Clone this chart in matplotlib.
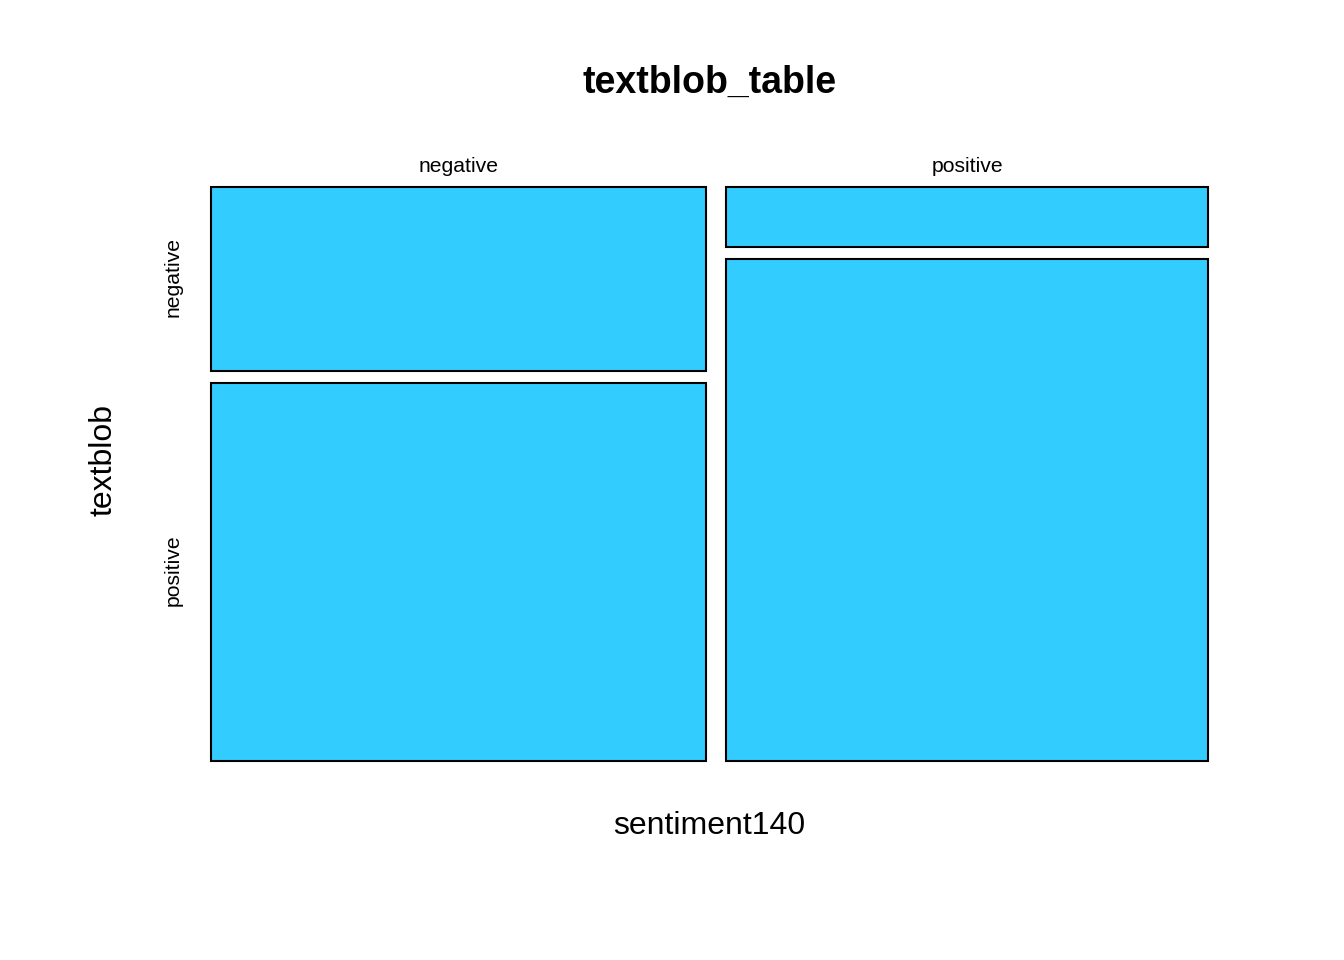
import matplotlib
matplotlib.use("Agg")
import matplotlib.pyplot as plt
from matplotlib.patches import Rectangle

plt.rcParams['font.family'] = ['Liberation Sans', 'DejaVu Sans']

# Contingency table: rows = sentiment140, cols = textblob
sentiment140 = ["negative", "positive"]
textblob = ["negative", "positive"]
counts_neg = [166, 341]   # sentiment140 = negative: textblob negative, positive
counts_pos = [53, 440]    # sentiment140 = positive: textblob negative, positive
table = [counts_neg, counts_pos]

W, H = 1344, 960
fig = plt.figure(figsize=(W / 100, H / 100), dpi=100)
ax_bottom = 1 - 761 / H
ax_height = (761 - 187) / H
ax = fig.add_axes([211 / W, ax_bottom, (1208 - 211) / W, ax_height])
ax.set_xlim(0, 1)
ax.set_ylim(0, 1)
ax.axis('off')

gap_x = 20 / 997
gap_y = 11.5 / 574
fill = '#33CCFF'
small = 15.2

col_tot = [sum(r) for r in table]
grand = sum(col_tot)
avail_w = 1 - gap_x * (len(table) - 1)
x = 0.0
for i, row in enumerate(table):
    w = avail_w * col_tot[i] / grand
    avail_h = 1 - gap_y * (len(row) - 1)
    ytop = 1.0
    for j, c in enumerate(row):
        h = avail_h * c / col_tot[i]
        ax.add_patch(Rectangle((x, ytop - h), w, h, facecolor=fill,
                               edgecolor='black', linewidth=1.5, clip_on=False))
        if i == 0:
            fig.text(173 / W, ax_bottom + (ytop - h / 2) * ax_height + 2 / H, textblob[j],
                     rotation=90, ha='center', va='center', fontsize=small)
        ytop -= h + gap_y
    ax.text(x + w / 2, 1 + 21 / 574, sentiment140[i], ha='center', va='center',
            fontsize=small, transform=ax.transAxes)
    x += w + gap_x

fig.text(709.5 / W, 1 - 83 / H, "textblob_table", ha='center', va='center',
         fontsize=27, fontweight='bold')
fig.text(709.5 / W, 1 - 826 / H, "sentiment140", ha='center', va='center',
         fontsize=23)
fig.text(104 / W, 1 - 460 / H, "textblob", ha='center', va='center',
         fontsize=23, rotation=90)

fig.savefig("out.png", dpi=100)
